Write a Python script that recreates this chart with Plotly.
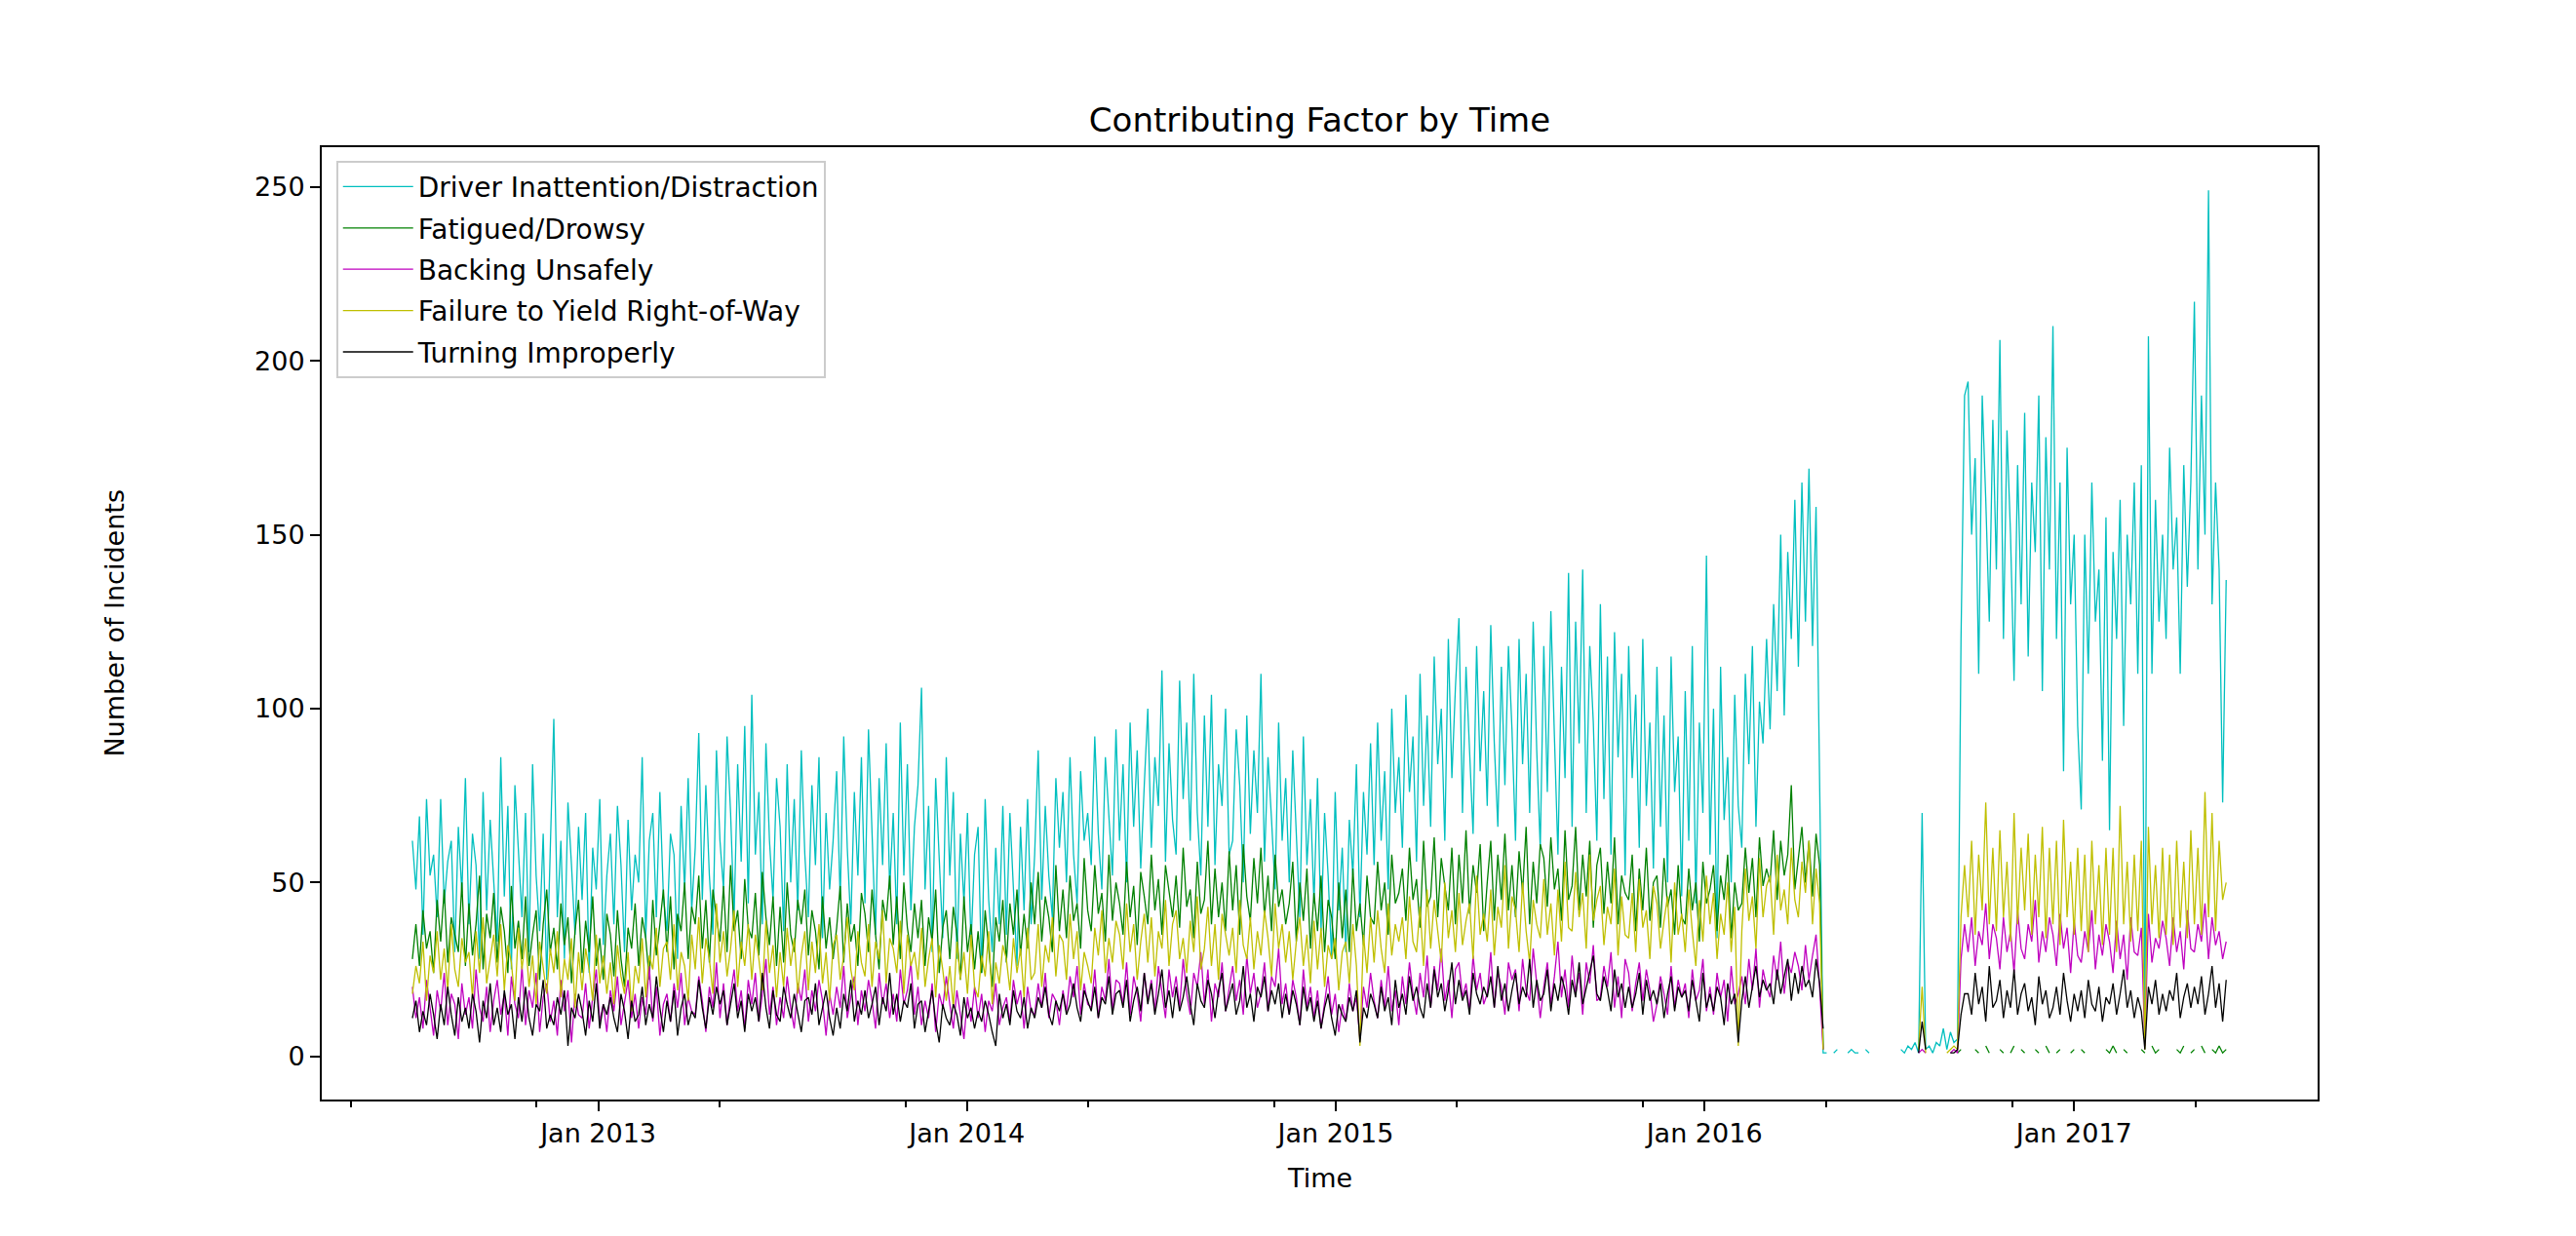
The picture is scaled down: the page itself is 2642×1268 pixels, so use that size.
import pandas as pd
import plotly.graph_objects as go

# two readings per week, starting 2012-07-01 (one row = 4 weeks)
START = "2012-07-01"
STEP = "84h"

driver_inattention = [
    62, 48, 69, 35, 74, 52, 58, 40,
    74, 44, 56, 62, 30, 66, 47, 80,
    38, 64, 55, 28, 76, 42, 68, 50,
    33, 86, 46, 72, 25, 78, 58, 40,
    70, 30, 84, 52, 36, 64, 22, 58,
    97, 40, 62, 28, 73, 55, 35, 66,
    45, 70, 24, 60, 48, 74, 32, 52,
    64, 38, 72, 55, 30, 68, 42, 58,
    50, 86, 34, 62, 70, 40, 76, 46,
    36, 64, 58, 28, 72, 48, 80, 42,
    60, 93, 45, 78, 52, 35, 88, 62,
    48, 92, 70, 40, 84, 56, 95, 44,
    104, 58, 76, 38, 90, 62, 45, 80,
    66, 36, 84, 50, 74, 42, 88, 58,
    40, 78, 55, 86, 34, 70, 48, 62,
    82, 45, 92, 60, 38, 76, 52, 86,
    44, 94, 62, 35, 80, 55, 90, 48,
    70, 38, 96, 52, 84, 42, 66, 78,
    106, 48, 72, 30, 80, 58, 34, 86,
    52, 76, 28, 64, 44, 70, 32, 58,
    66, 24, 74, 45, 30, 60, 38, 72,
    35, 70, 50, 26, 66, 42, 74, 38,
    58, 88, 45, 72, 52, 40, 80, 60,
    76, 50, 86, 58, 44, 82, 62, 70,
    55, 92, 64, 48, 86, 70, 52, 94,
    62, 84, 50, 96, 66, 88, 54, 78,
    100, 60, 86, 72, 111, 56, 90, 68,
    58, 108, 74, 96, 62, 110, 70, 52,
    98, 66, 104, 55, 84, 72, 100, 58,
    62, 94, 78, 50, 98, 64, 88, 70,
    110, 56, 86, 68, 48, 96, 62, 80,
    50, 88, 64, 40, 92, 55, 74, 44,
    80, 36, 70, 52, 28, 76, 42, 60,
    30, 68, 52, 84, 40, 76, 58, 90,
    55, 96, 62, 82, 48, 100, 70, 86,
    60, 104, 76, 92, 56, 110, 72, 98,
    66, 115, 84, 100, 62, 120, 80, 106,
    126, 70, 112, 88, 64, 118, 82, 105,
    72, 124, 90, 66, 112, 78, 118, 94,
    62, 120, 84, 110, 70, 125, 88, 60,
    118, 76, 128, 92, 58, 112, 80, 139,
    66, 125, 90, 140, 70, 118, 96, 62,
    130, 74, 115, 58, 122, 86, 110, 52,
    118, 80, 104, 60, 120, 72, 96, 54,
    112, 66, 98, 50, 115, 76, 92, 46,
    105, 62, 118, 44, 96, 70, 144, 58,
    100, 34, 112, 68, 86, 50, 104, 72,
    60, 110, 84, 118, 66, 102, 90, 120,
    94, 130, 105, 150, 98, 145, 120, 160,
    112, 165, 125, 169, 118, 158, 85, 1,
    1, None, 1, 2, None, None, 1, 2,
    1, 1, None, 2, 1, None, None, None,
    None, None, None, 1, None, 2, 1, 3,
    2, 4, 1, 70, 2, 3, 1, 4,
    3, 8, 2, 7, 4, 5, 120, 190,
    194, 150, 172, 110, 190, 160, 125, 183,
    140, 206, 120, 180, 150, 108, 170, 130,
    185, 115, 165, 145, 190, 105, 178, 140,
    210, 120, 165, 82, 175, 130, 150, 95,
    71, 150, 110, 165, 125, 140, 85, 155,
    65, 145, 120, 160, 95, 150, 130, 165,
    110, 170, 5, 207, 110, 160, 125, 150,
    120, 175, 140, 155, 110, 170, 135, 165,
    217, 140, 190, 150, 249, 130, 165, 140,
    73, 137,
]

fatigued_drowsy = [
    28, 38, 26, 42, 31, 36, 24, 45,
    33, 48, 27, 40, 35, 30, 50, 26,
    44, 29, 38, 52, 25, 41, 34, 47,
    27, 43, 36, 24, 49, 31, 39, 28,
    46, 26, 35, 42, 22, 38, 48, 30,
    37, 25, 44, 32, 40, 21, 36, 45,
    24, 39, 30, 46, 26, 34, 22, 41,
    35, 23, 42, 28, 20, 37, 31, 44,
    26, 40, 34, 22, 45, 29, 38, 48,
    30, 46, 25, 41, 36, 50, 28, 43,
    38, 52, 31, 45, 27, 48, 40, 33,
    49, 30, 55, 36, 42, 28, 51, 37,
    34, 47, 29, 53, 40, 32, 46, 26,
    43, 27, 50, 35, 30, 45, 38, 48,
    29, 42, 36, 25, 46, 31, 40, 28,
    37, 49, 27, 44, 33, 38, 26, 47,
    41, 30, 48, 35, 25, 45, 39, 52,
    32, 46, 28, 50, 37, 30, 44, 34,
    45, 26, 40, 33, 48, 24, 37, 42,
    28, 43, 35, 22, 46, 30, 38, 25,
    36, 24, 42, 30, 20, 40, 33, 45,
    27, 44, 35, 48, 29, 41, 31, 50,
    38, 53, 33, 46, 40, 30, 55, 36,
    48, 34, 52, 39, 44, 31, 57, 42,
    36, 55, 41, 47, 33, 58, 39, 50,
    44, 35, 56, 40, 49, 32, 53, 46,
    38, 58, 42, 51, 35, 55, 47, 40,
    52, 37, 60, 43, 48, 34, 56, 41,
    45, 62, 38, 54, 40, 50, 36, 59,
    42, 55, 35, 61, 46, 39, 57, 44,
    60, 40, 52, 36, 58, 43, 48, 38,
    44, 56, 33, 50, 39, 54, 31, 47,
    36, 52, 30, 45, 40, 28, 50, 34,
    48, 30, 54, 36, 44, 32, 52, 40,
    38, 56, 42, 50, 35, 58, 44, 47,
    54, 39, 60, 45, 51, 37, 62, 43,
    46, 63, 40, 57, 49, 42, 60, 38,
    58, 44, 65, 41, 55, 47, 61, 36,
    50, 62, 39, 58, 45, 64, 42, 55,
    40, 59, 47, 66, 38, 56, 44, 61,
    57, 43, 63, 48, 54, 39, 65, 45,
    49, 66, 42, 58, 46, 62, 37, 55,
    60, 41, 56, 44, 63, 38, 52, 47,
    45, 58, 36, 54, 42, 60, 39, 50,
    52, 37, 57, 43, 48, 35, 55, 40,
    38, 54, 42, 50, 33, 56, 44, 48,
    55, 36, 52, 45, 58, 34, 50, 42,
    44, 60, 47, 57, 40, 63, 49, 54,
    50, 65, 45, 62, 52, 58, 78, 48,
    57, 66, 50, 62, 46, 64, 55, 2,
    None, None, None, None, None, None, None, None,
    None, None, None, None, None, None, None, None,
    None, None, None, None, None, None, None, None,
    None, None, None, None, None, None, None, None,
    None, None, None, None, None, 1, 2, None,
    1, None, 2, 1, None, 3, 1, None,
    None, 2, 1, None, 1, 3, None, 2,
    1, None, None, 2, 1, None, 3, 1,
    None, 1, 2, None, None, 1, 2, None,
    2, 1, None, None, 1, None, None, 2,
    1, 3, 1, None, 2, 1, None, None,
    None, 2, 1, None, 3, 1, 2, None,
    1, None, None, 2, 1, 3, None, 1,
    2, None, 3, 1, None, 2, 1, 3,
    1, 2,
]

backing_unsafely = [
    20, 11, 17, 8, 22, 14, 6, 19,
    13, 24, 9, 18, 15, 5, 21, 12,
    17, 8, 25, 14, 10, 20, 7, 16,
    22, 12, 18, 6, 23, 15, 11, 26,
    9, 19, 14, 24, 7, 17, 21, 10,
    16, 6, 22, 13, 19, 4, 18, 12,
    11, 21, 8, 17, 25, 10, 15, 7,
    19, 13, 23, 9, 16, 22, 11, 18,
    8, 17, 12, 26, 10, 20, 6, 15,
    18, 10, 21, 14, 24, 9, 17, 13,
    12, 23, 16, 7, 20, 14, 27, 11,
    21, 9, 18, 25, 13, 19, 8, 22,
    15, 24, 10, 18, 28, 12, 20, 9,
    17, 11, 23, 14, 8, 21, 16, 25,
    10, 19, 13, 22, 16, 6, 18, 12,
    20, 14, 26, 11, 17, 23, 9, 19,
    13, 22, 16, 8, 24, 15, 21, 11,
    18, 10, 25, 15, 19, 27, 12, 20,
    9, 16, 11, 21, 7, 18, 14, 23,
    15, 8, 19, 12, 5, 17, 10, 20,
    11, 18, 7, 16, 13, 21, 9, 14,
    17, 10, 22, 15, 19, 8, 20, 13,
    12, 21, 14, 24, 11, 18, 16, 9,
    19, 13, 23, 17, 26, 12, 21, 15,
    14, 25, 11, 20, 16, 28, 13, 22,
    21, 15, 27, 12, 23, 18, 10, 24,
    16, 22, 13, 26, 19, 11, 25, 17,
    23, 14, 28, 18, 12, 24, 20, 30,
    15, 25, 10, 21, 17, 27, 13, 19,
    26, 16, 22, 12, 29, 18, 24, 14,
    18, 27, 13, 23, 20, 31, 15, 21,
    12, 22, 17, 9, 25, 14, 20, 11,
    19, 8, 16, 23, 12, 18, 7, 15,
    10, 21, 13, 17, 5, 20, 14, 24,
    16, 11, 22, 14, 26, 13, 19, 9,
    23, 15, 27, 18, 12, 24, 17, 29,
    14, 26, 19, 31, 16, 22, 11, 25,
    27, 17, 21, 13, 29, 19, 24, 15,
    18, 30, 14, 24, 20, 12, 27, 22,
    25, 13, 28, 19, 16, 31, 21, 11,
    20, 27, 15, 23, 33, 17, 25, 14,
    29, 18, 24, 12, 27, 21, 32, 16,
    17, 26, 20, 30, 14, 23, 11, 28,
    24, 13, 21, 27, 16, 25, 19, 10,
    15, 23, 18, 12, 26, 14, 22, 17,
    21, 11, 25, 16, 19, 28, 13, 20,
    12, 24, 17, 22, 10, 26, 15, 18,
    23, 15, 28, 19, 31, 14, 25, 20,
    17, 29, 22, 33, 18, 27, 24, 30,
    26, 19, 32, 22, 29, 35, 20, 2,
    None, None, None, None, None, None, None, None,
    None, None, None, None, None, None, None, None,
    None, None, None, None, None, None, None, None,
    None, None, 1, 2, 1, None, None, None,
    None, None, None, 1, 2, 1, 28, 38,
    30, 40, 26, 36, 32, 44, 28, 38,
    34, 25, 40, 30, 36, 24, 42, 31,
    28, 38, 33, 45, 27, 36, 30, 40,
    35, 26, 41, 31, 37, 24, 39, 29,
    27, 36, 30, 42, 25, 35, 29, 38,
    33, 24, 39, 28, 35, 22, 40, 30,
    29, 37, 3, 41, 27, 34, 31, 39,
    34, 26, 40, 30, 36, 25, 42, 31,
    30, 38, 33, 44, 28, 40, 32, 36,
    28, 33,
]

failure_to_yield = [
    18, 26, 21, 33, 16, 29, 24, 36,
    22, 31, 19, 38, 25, 20, 34, 27,
    30, 17, 36, 24, 40, 21, 28, 35,
    23, 38, 19, 32, 27, 16, 37, 25,
    34, 20, 29, 15, 33, 26, 18, 31,
    24, 36, 17, 28, 22, 34, 14, 30,
    19, 31, 25, 16, 35, 21, 29, 18,
    27, 15, 32, 23, 18, 30, 13, 26,
    21, 34, 17, 29, 25, 37, 20, 31,
    33, 22, 38, 19, 30, 26, 16, 35,
    25, 40, 21, 34, 28, 18, 44, 27,
    36, 23, 31, 42, 20, 33, 26, 38,
    22, 35, 28, 19, 39, 24, 32, 17,
    30, 20, 37, 26, 34, 18, 29, 36,
    19, 33, 24, 38, 21, 30, 16, 32,
    35, 22, 29, 40, 25, 19, 36, 27,
    23, 38, 20, 33, 28, 42, 21, 34,
    31, 24, 39, 18, 35, 26, 30, 22,
    37, 20, 28, 34, 17, 32, 25, 16,
    26, 14, 33, 22, 30, 18, 35, 20,
    17, 29, 23, 36, 15, 27, 21, 32,
    28, 19, 34, 24, 31, 17, 37, 22,
    24, 38, 20, 32, 27, 40, 23, 35,
    33, 22, 41, 28, 36, 19, 30, 26,
    21, 37, 29, 42, 24, 34, 27, 39,
    35, 25, 44, 30, 38, 22, 33, 41,
    27, 40, 23, 36, 31, 45, 26, 38,
    42, 28, 34, 24, 39, 30, 46, 25,
    31, 43, 26, 38, 22, 41, 35, 29,
    37, 24, 45, 32, 28, 40, 25, 36,
    29, 42, 34, 23, 44, 31, 38, 27,
    36, 22, 33, 40, 26, 35, 21, 39,
    25, 37, 20, 32, 28, 34, 19, 30,
    33, 21, 38, 26, 3, 35, 24, 40,
    27, 42, 31, 24, 44, 29, 38, 33,
    40, 28, 46, 33, 30, 43, 26, 48,
    31, 45, 36, 27, 50, 34, 42, 30,
    47, 32, 39, 44, 28, 52, 35, 41,
    33, 48, 29, 43, 37, 55, 31, 46,
    42, 30, 50, 36, 27, 45, 38, 34,
    51, 35, 44, 29, 48, 33, 56, 37,
    36, 53, 40, 47, 31, 58, 39, 45,
    49, 32, 43, 38, 54, 29, 46, 35,
    34, 47, 30, 51, 37, 42, 28, 49,
    44, 31, 39, 46, 27, 50, 35, 41,
    30, 48, 36, 26, 45, 33, 52, 38,
    47, 28, 41, 35, 50, 30, 43, 3,
    36, 54, 39, 46, 31, 57, 40, 49,
    52, 35, 58, 42, 48, 38, 60, 45,
    40, 56, 47, 62, 38, 54, 44, 2,
    None, None, None, None, None, None, None, None,
    None, None, None, None, None, None, None, None,
    None, None, None, None, None, None, None, None,
    None, None, 2, 20, 1, None, None, None,
    None, None, 1, 2, 3, 2, 40, 55,
    40, 62, 35, 58, 42, 73, 38, 60,
    36, 65, 40, 56, 33, 70, 38, 60,
    42, 64, 35, 58, 40, 66, 34, 60,
    38, 62, 32, 68, 40, 56, 35, 60,
    36, 58, 30, 62, 38, 55, 32, 60,
    35, 60, 30, 72, 38, 56, 33, 58,
    36, 62, 2, 66, 38, 55, 34, 60,
    35, 58, 32, 62, 37, 56, 34, 65,
    38, 60, 35, 76, 40, 70, 36, 62,
    45, 50,
]

turning_improperly = [
    11, 16, 7, 13, 9, 18, 12, 5,
    15, 9, 20, 12, 6, 17, 10, 14,
    8, 18, 13, 4, 16, 11, 21, 9,
    14, 7, 19, 12, 15, 5, 17, 10,
    20, 11, 6, 15, 13, 22, 8, 12,
    9, 17, 12, 19, 3, 14, 11, 18,
    13, 6, 16, 10, 21, 8, 15, 12,
    17, 11, 7, 18, 13, 5, 16, 10,
    12, 20, 9, 15, 11, 23, 14, 7,
    16, 10, 19, 6, 14, 18, 9, 13,
    11, 22, 14, 8, 17, 12, 20, 15,
    19, 9, 15, 21, 11, 16, 7, 18,
    13, 17, 10, 24, 14, 8, 19, 12,
    10, 20, 15, 11, 18, 13, 7, 16,
    17, 12, 21, 9, 14, 19, 11, 6,
    14, 8, 18, 13, 22, 10, 16, 12,
    19, 11, 15, 20, 9, 17, 13, 24,
    12, 18, 10, 16, 14, 21, 8, 15,
    16, 7, 13, 19, 10, 4, 15, 11,
    9, 15, 12, 6, 17, 11, 14, 8,
    13, 10, 16, 12, 7, 3, 18, 11,
    15, 9, 19, 13, 11, 17, 8, 14,
    11, 17, 14, 20, 12, 9, 16, 13,
    18, 12, 15, 21, 14, 10, 19, 16,
    13, 20, 11, 17, 15, 23, 12, 18,
    19, 14, 22, 10, 16, 20, 13, 24,
    15, 21, 12, 18, 25, 14, 19, 11,
    20, 13, 17, 23, 15, 9, 21, 16,
    14, 22, 18, 11, 19, 24, 13, 17,
    21, 12, 16, 26, 14, 18, 10, 20,
    17, 23, 13, 19, 15, 21, 11, 18,
    12, 19, 15, 9, 20, 13, 17, 10,
    16, 8, 14, 18, 11, 6, 15, 12,
    10, 17, 13, 19, 4, 14, 11, 18,
    15, 11, 20, 13, 17, 9, 22, 14,
    18, 12, 23, 16, 20, 14, 11, 21,
    14, 25, 17, 21, 13, 19, 27, 15,
    22, 16, 19, 12, 24, 18, 15, 20,
    17, 23, 14, 26, 16, 21, 13, 19,
    24, 15, 20, 17, 28, 14, 22, 16,
    18, 25, 13, 21, 16, 23, 19, 12,
    22, 17, 27, 15, 20, 24, 29, 18,
    16, 23, 19, 13, 25, 17, 21, 14,
    20, 14, 18, 24, 12, 22, 16, 19,
    15, 21, 11, 18, 23, 13, 20, 17,
    19, 13, 22, 16, 10, 24, 14, 18,
    13, 20, 17, 9, 21, 15, 18, 4,
    16, 23, 14, 20, 26, 17, 22, 19,
    21, 15, 25, 18, 23, 28, 16, 24,
    18, 26, 20, 22, 17, 28, 21, 8,
    None, None, None, None, None, None, None, None,
    None, None, None, None, None, None, None, None,
    None, None, None, None, None, None, None, None,
    None, None, 1, 10, 2, None, None, None,
    None, None, None, 1, 1, 2, 12, 18,
    18, 12, 24, 15, 20, 10, 26, 14,
    16, 22, 11, 19, 14, 25, 12, 18,
    21, 13, 17, 9, 23, 15, 19, 11,
    14, 20, 12, 24, 16, 10, 18, 13,
    19, 11, 22, 15, 13, 20, 10, 17,
    15, 21, 12, 18, 25, 14, 19, 11,
    17, 13, 2, 20, 15, 22, 12, 18,
    13, 19, 16, 24, 11, 17, 21, 14,
    20, 15, 23, 12, 18, 26, 14, 21,
    10, 22,
]

series = [
    ("Driver Inattention/Distraction", driver_inattention, "#00bfbf"),
    ("Fatigued/Drowsy", fatigued_drowsy, "#008000"),
    ("Backing Unsafely", backing_unsafely, "#bf00bf"),
    ("Failure to Yield Right-of-Way", failure_to_yield, "#bfbf00"),
    ("Turning Improperly", turning_improperly, "#000000"),
]

year_ticks = ["2013-01-01", "2014-01-01", "2015-01-01", "2016-01-01", "2017-01-01"]
year_labels = ["Jan 2013", "Jan 2014", "Jan 2015", "Jan 2016", "Jan 2017"]
minor_ticks = ["2012-05-01", "2012-11-01", "2013-05-01", "2013-11-01",
               "2014-05-01", "2014-11-01", "2015-05-01", "2015-11-01",
               "2016-05-01", "2016-11-01", "2017-05-01"]
y_ticks = [0, 50, 100, 150, 200, 250]

FONT = "DejaVu Sans"

fig = go.Figure()

for i, (name, values, color) in enumerate(series):
    dates = pd.date_range(START, periods=len(values), freq=STEP)
    fig.add_trace(go.Scatter(
        x=dates,
        y=values,
        mode="lines",
        name=name,
        legendgroup=str(i),
        line=dict(color=color, width=1.3),
        connectgaps=False,
    ))

fig.update_layout(
    width=2626,
    height=1252,
    margin=dict(l=322, r=257, t=143, b=132),
    paper_bgcolor="white",
    plot_bgcolor="white",
    font=dict(family=FONT, size=27, color="black"),
    title=dict(
        text="Contributing Factor by Time",
        x=0.5, xref="paper", xanchor="center",
        y=1 - 115 / 1252, yref="container", yanchor="middle",
        font=dict(size=34, family=FONT, color="black"),
    ),
    legend=dict(
        x=0.0072, y=0.986, xanchor="left", yanchor="top",
        bgcolor="rgba(255,255,255,0.8)",
        bordercolor="#cccccc", borderwidth=2,
        font=dict(size=28, family=FONT, color="black"),
        tracegroupgap=3,
        itemwidth=72,
    ),
    showlegend=True,
)

fig.update_xaxes(
    type="date",
    range=["2012-04-02 07:00", "2017-08-30"],
    tickmode="array",
    tickvals=year_ticks,
    ticktext=year_labels,
    ticks="outside",
    ticklen=10,
    tickwidth=2,
    tickcolor="black",
    showline=True,
    linewidth=2,
    linecolor="black",
    mirror=True,
    showgrid=False,
    zeroline=False,
    minor=dict(tickmode="array", tickvals=minor_ticks, ticks="outside",
               ticklen=6, tickwidth=2, tickcolor="black", showgrid=False),
)

fig.update_yaxes(
    range=[-12.4, 261.4],
    tickmode="array",
    tickvals=y_ticks,
    ticks="outside",
    ticklen=10,
    tickwidth=2,
    tickcolor="black",
    showline=True,
    linewidth=2,
    linecolor="black",
    mirror=True,
    showgrid=False,
    zeroline=False,
)

fig.add_annotation(text="Time", xref="paper", yref="paper",
                   x=0.5, y=-0.0819, xanchor="center", yanchor="middle",
                   showarrow=False, font=dict(size=27, family=FONT))
fig.add_annotation(text="Number of Incidents", xref="paper", yref="paper",
                   x=-0.104, y=0.5, xanchor="center", yanchor="middle",
                   textangle=-90, showarrow=False,
                   font=dict(size=27, family=FONT))

fig.write_html("out.html")
